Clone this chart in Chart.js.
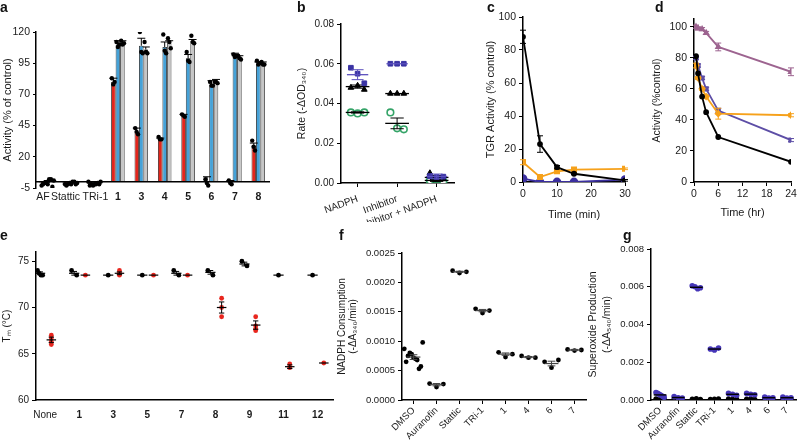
<!DOCTYPE html>
<html>
<head>
<meta charset="utf-8">
<title>Figure</title>
<script src="https://cdn.jsdelivr.net/npm/chart.js@4.4.1/dist/chart.umd.min.js"></script>
<style>
  body { margin: 0; background: #fff; }
  #fig { position: relative; width: 800px; height: 441px; overflow: hidden; font-family: "Liberation Sans", Arial, sans-serif; }
  #fig canvas { position: absolute; }
  .tag { position: absolute; font-weight: bold; font-size: 14px; line-height: 14px; color: #111; }
</style>
</head>
<body>
<div id="fig">
  <canvas id="ca" width="275" height="215" style="left:0;top:0"></canvas>
  <canvas id="cb" width="175" height="222" style="left:285px;top:0"></canvas>
  <canvas id="cc" width="160" height="225" style="left:475px;top:0"></canvas>
  <canvas id="cd" width="155" height="225" style="left:645px;top:0"></canvas>
  <canvas id="ce" width="340" height="216" style="left:0;top:225px"></canvas>
  <canvas id="cf" width="255" height="216" style="left:335px;top:225px"></canvas>
  <canvas id="cg" width="217" height="216" style="left:583px;top:225px"></canvas>
  <div class="tag" style="left:0;top:0">a</div>
  <div class="tag" style="left:297px;top:0">b</div>
  <div class="tag" style="left:487px;top:0">c</div>
  <div class="tag" style="left:655px;top:0">d</div>
  <div class="tag" style="left:0;top:228px">e</div>
  <div class="tag" style="left:339px;top:228px">f</div>
  <div class="tag" style="left:623px;top:228px">g</div>
</div>
<script>
// ---- panel a: activity bars ----
const aLabels = ['AF', 'Stattic', 'TRi-1', '1', '3', '4', '5', '6', '7', '8'];
const aRed  = [-2, -2, -1, 80, 40, 34, 53, 0, 0, 29];
const aBlue = [-1, -1, -2, 110, 109, 108, 99, 78, 101, 95];
const aGray = [0, -1, -1, 111, 106, 111, 113, 81, 100, 95];
const aRedErr  = [2, 1, 1, 3, 3, 1, 1, 4, 1, 2];
const aBlueErr = [2, 1, 1, 3, 6, 4, 3, 3, 2, 1];
const aGrayErr = [1, 1, 1, 2, 2, 2, 1, 1, 1, 1];
const aRedDots  = [[-3, -2, -1], [-2, -3, -2], [0, -3, -2], [83, 78, 80], [43, 40, 38], [36, 34, 34], [54, 53, 52], [2, -1, -3], [1, -1, -2], [33, 28, 25]];
const aBlueDots = [[-1, -2, 2], [-1, -2, 0], [-3, -2, -2], [112, 108, 110], [120, 104, 103], [118, 105, 103], [104, 97, 96], [80, 77, 77], [102, 100, 101], [97, 94, 95]];
const aGrayDots = [[2, -4, 1], [0, -2, -1], [-1, -2, 0], [113, 110, 111], [112, 104, 103], [115, 112, 107], [117, 112, 111], [80, 80, 79], [101, 99, 98], [96, 94, 94]];
const aYTicks = [-5, 20, 45, 70, 95, 120];

// ---- panel b: rates ----
const bLabels = ['NADPH', 'Inhibitor', 'Inhibitor + NADPH'];
const bBlue  = [[0.058, 0.055, 0.0502], [0.060, 0.060, 0.060], [0.0035, 0.003, 0.0032]];
const bBlack = [[0.048, 0.049, 0.047], [0.045, 0.045, 0.045], [0.005, 0.0015, 0.002]];
const bGreen = [[0.0355, 0.035, 0.0355], [0.0355, 0.0275, 0.027], [0.0012, 0.0018, 0.0008]];
const bBlueMean  = [0.0545, 0.060, 0.0033];
const bBlackMean = [0.0485, 0.045, 0.0028];
const bGreenMean = [0.0355, 0.030, 0.0013];
const bBlueSem  = [0.0025, 0, 0.0012];
const bBlackSem = [0.0008, 0, 0.001];
const bGreenSem = [0.0003, 0.0027, 0.0005];
const bYTicks = [0, 0.02, 0.04, 0.06, 0.08];

// ---- panel c: TGR activity vs time ----
const cTime = [0, 5, 10, 15, 30];
const cBlack = [88, 23, 9, 5, 1];
const cBlackErr = [4, 5, 1, 0.5, 0.5];
const cOrange = [12, 3, 6.5, 7.5, 8];
const cOrangeErr = [1.5, 0.5, 0.5, 0.5, 0.5];
const cBlue = [2, 0, 0, 0, 1.5];
const cYTicks = [0, 20, 40, 60, 80, 100];
const cXTicks = [0, 10, 20, 30];

// ---- panel d: activity vs time (hr) ----
const dTime = [0.5, 1, 2, 3, 6, 24];
const dMauve  = [100, 99, 98.5, 96, 87, 71];
const dPurple = [80, 75, 67, 60, 46, 27];
const dOrange = [75, 67, 60, 55, 44, 43];
const dBlack  = [81, 70, 55, 45, 29, 13];
const dMauveErr  = [1, 1, 1, 1, 2.5, 2.5];
const dPurpleErr = [1, 1, 1, 1, 1.5, 1];
const dOrangeErr = [1.5, 1, 1, 1, 3.5, 1];
const dYTicks = [0, 20, 40, 60, 80, 100];
const dXTicks = [0, 6, 12, 18, 24];

// ---- panel e: melting temperature ----
const eLabels = ['None', '1', '3', '5', '7', '8', '9', '11', '12'];
const eBlackDots = [[74, 73.7, 73.5, 73.5], [74, 73.5], [73.5], [73.5], [74, 73.5], [74, 73.5], [75, 74.5], [73.5], [73.5]];
const eRedDots = [[67, 66.7, 66.3, 66], [73.5], [74, 73.7, 73.5], [73.5], [73.5], [71, 70, 69], [69, 68, 67.5, 67.7], [63.9, 63.5], [64]];
const eBlackMean = [73.7, 73.7, 73.5, 73.5, 73.7, 73.8, 74.7, 73.5, 73.5];
const eRedMean = [66.5, 73.5, 73.7, 73.5, 73.5, 70, 68.1, 63.6, 64];
const eBlackSem = [0.15, 0.2, 0, 0, 0.2, 0.2, 0.2, 0, 0];
const eRedSem = [0.3, 0, 0.15, 0, 0, 0.6, 0.45, 0.2, 0];
const eYTicks = [60, 65, 70, 75];

// ---- panel f: NADPH consumption ----
const fLabels = ['DMSO', 'Auranofin', 'Stattic', 'TRi-1', '1', '4', '6', '7'];
const fDots = [[0.00087, 0.00065, 0.00075, 0.0008, 0.00078, 0.00072, 0.0007, 0.00068, 0.00053, 0.00057, 0.00098],
  [0.00028, 0.00022, 0.00027], [0.0022, 0.00216, 0.00218], [0.00155, 0.00148, 0.00152],
  [0.00081, 0.00073, 0.00078], [0.00075, 0.00072, 0.00072], [0.00065, 0.00055, 0.00068], [0.00086, 0.00084, 0.00085]];
const fMean = [0.00073, 0.00026, 0.00218, 0.00152, 0.00078, 0.00073, 0.00062, 0.00085];
const fSem = [0.00004, 0.00002, 0.00001, 0.00002, 0.00002, 0.00001, 0.00004, 0.00001];
const fYTicks = [0, 0.0005, 0.001, 0.0015, 0.002, 0.0025];

// ---- panel g: superoxide production ----
const gLabels = ['DMSO', 'Auranofin', 'Stattic', 'TRi-1', '1', '4', '6', '7'];
const gBlueDots = [[0.0004, 0.00035, 0.0003, 0.00025, 0.0002, 0.00015], [0.00018, 0.00012, 0.0001], [0.00605, 0.006, 0.0059, 0.00595], [0.0027, 0.00265, 0.00275],
  [0.00035, 0.0003, 0.00025], [0.00035, 0.0003, 0.00028], [0.00015, 0.0001, 0.00012], [0.00015, 0.0001, 0.00012]];
const gBlackDots = [[0.00006, 0.00003, 0.00005], [0.00004, 0.00006, 0.00005], [0.00005, 0.00007, 0.00004], [0.00004, 0.00005, 0.00006],
  [0.00006, 0.00004, 0.00005], [0.00005, 0.00006, 0.00004], [0.00004, 0.00005, 0.00006], [0.00005, 0.00004, 0.00006]];
const gBlueMean = [0.00027, 0.00013, 0.00597, 0.0027, 0.0003, 0.00031, 0.00012, 0.00012];
const gBlackMean = [0.00005, 0.00005, 0.00005, 0.00005, 0.00005, 0.00005, 0.00005, 0.00005];
const gYTicks = [0, 0.002, 0.004, 0.006, 0.008];

// ---------------------------------------------------------------
const FONT = '"Liberation Sans", Arial, Helvetica, sans-serif';
Chart.defaults.font.family = FONT;
Chart.defaults.color = '#1a1a1a';
Chart.defaults.animation = false;
Chart.defaults.responsive = false;
Chart.defaults.events = [];
Chart.defaults.plugins.legend.display = false;
Chart.defaults.plugins.tooltip.enabled = false;

// error bars on elements (errs), mean +/- sem lines per group (summary)
Chart.register({
  id: 'summary',
  afterDatasetDraw(chart, args) {
    const ds = chart.data.datasets[args.index];
    const ctx = chart.ctx, xs = chart.scales.x, ys = chart.scales.y;
    ctx.save();
    if (ds.errs) {
      ctx.strokeStyle = ds.errColor || ds.borderColor || '#000';
      ctx.lineWidth = 1;
      args.meta.data.forEach((el, i) => {
        const e = ds.errs[i];
        if (!e) return;
        const v = typeof ds.data[i] === 'object' ? ds.data[i].y : ds.data[i];
        const top = ys.getPixelForValue(v + e);
        const bot = ds.errUp ? el.y : ys.getPixelForValue(v - e);
        const cw = ds.capW || 3;
        ctx.beginPath();
        ctx.moveTo(el.x, bot); ctx.lineTo(el.x, top);
        ctx.moveTo(el.x - cw, top); ctx.lineTo(el.x + cw, top);
        if (!ds.errUp) { ctx.moveTo(el.x - cw, bot); ctx.lineTo(el.x + cw, bot); }
        ctx.stroke();
      });
    }
    const g = ds.summary;
    if (g) {
      g.mean.forEach((m, i) => {
        const x = i + (g.offset || 0);
        const xl = xs.getPixelForValue(x - g.half), xr = xs.getPixelForValue(x + g.half);
        const xc = xs.getPixelForValue(x), ym = ys.getPixelForValue(m);
        ctx.strokeStyle = g.color;
        ctx.lineWidth = g.width || 1.3;
        ctx.beginPath(); ctx.moveTo(xl, ym); ctx.lineTo(xr, ym); ctx.stroke();
        const s = g.sem ? g.sem[i] : 0;
        if (s) {
          const y1 = ys.getPixelForValue(m + s), y2 = ys.getPixelForValue(m - s);
          const cw = (xr - xl) * 0.28;
          ctx.lineWidth = 1;
          ctx.beginPath();
          ctx.moveTo(xc, y1); ctx.lineTo(xc, y2);
          ctx.moveTo(xc - cw, y1); ctx.lineTo(xc + cw, y1);
          ctx.moveTo(xc - cw, y2); ctx.lineTo(xc + cw, y2);
          ctx.stroke();
        }
      });
    }
    ctx.restore();
  }
});

// points of each group, spread sideways around group index
function dotPoints(groups, offset, width) {
  const pts = [];
  groups.forEach((vals, i) => {
    const n = vals.length;
    const w = typeof width === 'function' ? width(n) : width;
    vals.forEach((v, j) => {
      const dx = n > 1 ? (j / (n - 1) - 0.5) * w : 0;
      pts.push({ x: i + offset + dx, y: v });
    });
  });
  return pts;
}

function vAxis(o) {
  return {
    type: 'linear', min: o.min, max: o.max,
    afterFit: s => { s.width = o.w; },
    afterBuildTicks: s => { s.ticks = o.ticks.map(v => ({ value: v })); },
    border: { color: '#000', width: 1.5 },
    grid: { drawOnChartArea: false, color: '#000', tickLength: o.tl || 4 },
    ticks: { padding: 3, color: '#1a1a1a', font: { size: o.fs || 10 }, callback: o.fmt || (v => v) },
    title: { display: true, text: o.title, color: '#1a1a1a', font: { size: o.tfs || 11, lineHeight: o.lh || 1.2 }, padding: { top: o.tpad, bottom: 0 } }
  };
}

function hAxis(o) {
  const marks = o.marks !== false;
  return {
    type: 'linear', min: o.min, max: o.max, offset: false,
    afterFit: s => { s.height = o.h; },
    afterBuildTicks: s => { s.ticks = o.ticks.map(v => ({ value: v })); },
    border: { display: o.border !== false, color: '#000', width: 1.5 },
    grid: { display: marks, drawTicks: marks, offset: false, drawOnChartArea: false, color: '#000', tickLength: 4 },
    ticks: { padding: o.pad ?? 2, autoSkip: false, minRotation: o.rot || 0, maxRotation: o.rot || 0,
      color: '#1a1a1a', font: o.font || { size: 10 }, callback: o.fmt || (v => v) },
    title: o.title ? { display: true, text: o.title, color: '#1a1a1a', font: { size: 11 }, padding: { top: 0, bottom: o.tpadB ?? 3 } } : { display: false }
  };
}

const boldNum = (labels, size) => c => ({ size: size, weight: /^\d/.test(labels[c.index] || '') ? 'bold' : 'normal' });

// ---------------- a ----------------
// the x axis crosses at y = 0: a flat line dataset spanning the x range
const BW = 0.6 / 3;
const aXMin = -0.5, aXMax = aLabels.length - 0.5;
new Chart(document.getElementById('ca'), {
  type: 'bar',
  data: {
    datasets: [
      { type: 'scatter', data: [...dotPoints(aRedDots, -BW, BW * 0.6), ...dotPoints(aBlueDots, 0, BW * 0.6), ...dotPoints(aGrayDots, BW, BW * 0.6)],
        backgroundColor: '#000', borderWidth: 0, pointRadius: 2.2 },
      { type: 'line', data: [{ x: aXMin, y: 0 }, { x: aXMax, y: 0 }], borderColor: '#000', borderWidth: 1.5, pointRadius: 0, clip: false },
      { data: aRed.map((v, i) => ({ x: i, y: v })), backgroundColor: '#e3261c', borderColor: '#111', borderWidth: 0.8, errs: aRedErr, errUp: true, errColor: '#000', capW: 4 },
      { data: aBlue.map((v, i) => ({ x: i, y: v })), backgroundColor: '#45a2d8', borderColor: '#111', borderWidth: 0.8, errs: aBlueErr, errUp: true, errColor: '#000', capW: 4 },
      { data: aGray.map((v, i) => ({ x: i, y: v })), backgroundColor: '#c6c6c6', borderColor: '#111', borderWidth: 0.8, errs: aGrayErr, errUp: true, errColor: '#000', capW: 4 }
    ]
  },
  options: {
    layout: { padding: { left: 0, top: 32, right: 5, bottom: 0 } },
    datasets: { bar: { categoryPercentage: 0.6, barPercentage: 1 } },
    scales: {
      x: hAxis({ min: aXMin, max: aXMax, h: 27, ticks: [-0.2, 0.76, 2.04, 3, 4, 5, 6, 7, 8, 9], marks: false, border: false, pad: 3,
        fmt: (v, i) => aLabels[i], font: boldNum(aLabels, 10.5) }),
      y: vAxis({ min: -5, max: 120, w: 36, ticks: aYTicks, fs: 10.5, tl: 3, title: 'Activity (% of control)', tfs: 11, tpad: 1 })
    }
  }
});

// ---------------- b ----------------
const bSpread = 0.34;
new Chart(document.getElementById('cb'), {
  type: 'scatter',
  data: {
    datasets: [
      { data: dotPoints(bBlue, 0, bSpread), pointStyle: 'rect', pointRadius: 3.3, backgroundColor: '#3a33a3', borderColor: '#3a33a3',
        summary: { mean: bBlueMean, sem: bBlueSem, half: 0.27, color: '#5b50bd' } },
      { data: dotPoints(bBlack, 0, bSpread), pointStyle: 'triangle', pointRadius: 3.3, backgroundColor: '#000', borderColor: '#000',
        summary: { mean: bBlackMean, sem: bBlackSem, half: 0.3, color: '#000' } },
      { data: dotPoints(bGreen, 0, bSpread), pointStyle: 'circle', pointRadius: 3.3, backgroundColor: '#fff', borderColor: '#35a468', borderWidth: 1.6,
        summary: { mean: bGreenMean, sem: bGreenSem, half: 0.3, color: '#000' } }
    ]
  },
  options: {
    layout: { padding: { left: 0, top: 24, right: 2, bottom: 0 } },
    scales: {
      x: hAxis({ min: -0.42, max: 2.45, h: 39, ticks: [0, 1, 2], rot: 20, pad: 6, font: { size: 10 }, fmt: (v, i) => bLabels[i] }),
      y: vAxis({ min: 0, max: 0.08, w: 56, ticks: bYTicks, fs: 10, fmt: v => v.toFixed(2), title: 'Rate (-ΔOD₃₄₀)', tfs: 10.5, tpad: 11 })
    }
  }
});

// ---------------- c ----------------
new Chart(document.getElementById('cc'), {
  type: 'line',
  data: {
    datasets: [
      { data: cTime.map((t, i) => ({ x: t, y: cBlack[i] })), borderColor: '#000', backgroundColor: '#000', borderWidth: 1.8, pointRadius: 2, errs: cBlackErr, capW: 3 },
      { data: cTime.map((t, i) => ({ x: t, y: cOrange[i] })), borderColor: '#f6a11b', backgroundColor: '#f6a11b', borderWidth: 1.8, pointStyle: 'rect', pointRadius: 3, errs: cOrangeErr, capW: 3 },
      { data: cTime.map((t, i) => ({ x: t, y: cBlue[i] })), borderColor: '#3b2f9f', backgroundColor: '#3b2f9f', borderWidth: 1.8, pointRadius: 3.5 }
    ]
  },
  options: {
    layout: { padding: { left: 0, top: 17, right: 10, bottom: 0 } },
    elements: { line: { tension: 0 } },
    scales: {
      x: hAxis({ min: 0, max: 30, h: 43, ticks: cXTicks, pad: 2, font: { size: 10.5 }, title: 'Time (min)', tpadB: 3 }),
      y: vAxis({ min: 0, max: 100, w: 48, ticks: cYTicks, fs: 10.5, title: 'TGR Activity (% control)', tfs: 11, tpad: 9 })
    }
  }
});

// ---------------- d ----------------
new Chart(document.getElementById('cd'), {
  type: 'line',
  data: {
    datasets: [
      { data: dTime.map((t, i) => ({ x: t, y: dBlack[i] })), borderColor: '#000', backgroundColor: '#000', borderWidth: 1.8, pointRadius: 2 },
      { data: dTime.map((t, i) => ({ x: t, y: dOrange[i] })), borderColor: '#f6a11b', backgroundColor: '#f6a11b', borderWidth: 1.8, pointStyle: 'rectRot', pointRadius: 2.6, errs: dOrangeErr, capW: 3 },
      { data: dTime.map((t, i) => ({ x: t, y: dPurple[i] })), borderColor: '#5d4ea6', backgroundColor: '#5d4ea6', borderWidth: 1.8, pointStyle: 'rect', pointRadius: 2.4, errs: dPurpleErr, capW: 3 },
      { data: dTime.map((t, i) => ({ x: t, y: dMauve[i] })), borderColor: '#9d6490', backgroundColor: '#9d6490', borderWidth: 1.8, pointStyle: 'triangle', pointRadius: 2.4, errs: dMauveErr, capW: 3 }
    ]
  },
  options: {
    layout: { padding: { left: 0, top: 19, right: 9, bottom: 0 } },
    elements: { line: { tension: 0 } },
    scales: {
      x: hAxis({ min: 0, max: 24, h: 43, ticks: dXTicks, pad: 2, font: { size: 10.5 }, title: 'Time (hr)', tpadB: 5 }),
      y: vAxis({ min: 0, max: 105, w: 49, ticks: dYTicks, fs: 10.5, title: 'Activity (%control)', tfs: 10.5, tpad: 6 })
    }
  }
});

// ---------------- e ----------------
new Chart(document.getElementById('ce'), {
  type: 'scatter',
  data: {
    datasets: [
      { data: dotPoints(eBlackDots, 0, 0.15), pointRadius: 2.4, backgroundColor: '#000', borderWidth: 0,
        summary: { mean: eBlackMean, sem: eBlackSem, half: 0.15, color: '#000', width: 1.2 } },
      { data: dotPoints(eRedDots, 0.33, 0), pointRadius: 2.4, backgroundColor: '#e8261e', borderWidth: 0,
        summary: { mean: eRedMean, sem: eRedSem, offset: 0.33, half: 0.14, color: '#000', width: 1.2 } }
    ]
  },
  options: {
    layout: { padding: { left: 0, top: 27, right: 7, bottom: 0 } },
    scales: {
      x: hAxis({ min: -0.12, max: 8.6, h: 41, ticks: eLabels.map((l, i) => i + 0.15), marks: false, pad: 9,
        fmt: (v, i) => eLabels[i], font: boldNum(eLabels, 10) }),
      y: vAxis({ min: 60, max: 76, w: 36, ticks: eYTicks, fs: 10, title: 'Tₘ (°C)', tfs: 10, tpad: 1 })
    }
  }
});

// ---------------- f ----------------
new Chart(document.getElementById('cf'), {
  type: 'scatter',
  data: {
    datasets: [
      { data: dotPoints(fDots, 0, n => Math.min(0.8, 0.3 * (n - 1))), pointRadius: 2.4, backgroundColor: '#000', borderWidth: 0,
        summary: { mean: fMean, sem: fSem, half: 0.3, color: '#444', width: 1.2 } }
    ]
  },
  options: {
    layout: { padding: { left: 0, top: 28, right: 3, bottom: 0 } },
    scales: {
      x: hAxis({ min: -0.5, max: 7.5, h: 41, ticks: fLabels.map((l, i) => i), rot: 45, pad: 1, font: { size: 9.5 }, fmt: (v, i) => fLabels[i] }),
      y: vAxis({ min: 0, max: 0.0025, w: 67, ticks: fYTicks, fs: 9.5, fmt: v => v.toFixed(4),
        title: ['NADPH Consumption', '(-ΔA₃₄₀/min)'], tfs: 10, lh: 1.1, tpad: 1.5 })
    }
  }
});

// ---------------- g ----------------
new Chart(document.getElementById('cg'), {
  type: 'scatter',
  data: {
    datasets: [
      { data: dotPoints(gBlueDots, 0, 0.45), pointRadius: 2.8, backgroundColor: '#4636b8', borderWidth: 0,
        summary: { mean: gBlueMean, half: 0.35, color: '#000', width: 1.4 } },
      { data: dotPoints(gBlackDots, 0, 0.45), pointRadius: 2.6, backgroundColor: '#000', borderWidth: 0,
        summary: { mean: gBlackMean, half: 0.35, color: '#000', width: 1.4 } }
    ]
  },
  options: {
    layout: { padding: { left: 0, top: 24, right: 3, bottom: 0 } },
    scales: {
      x: hAxis({ min: -0.5, max: 7.5, h: 41, ticks: gLabels.map((l, i) => i), rot: 45, pad: 1, font: { size: 9.5 }, fmt: (v, i) => gLabels[i] }),
      y: vAxis({ min: 0, max: 0.008, w: 68, ticks: gYTicks, fs: 9.5, fmt: v => v.toFixed(3),
        title: ['Superoxide Production', '(-ΔA₅₄₀/min)'], tfs: 10.5, lh: 1.33, tpad: 3 })
    }
  }
});
</script>
</body>
</html>
